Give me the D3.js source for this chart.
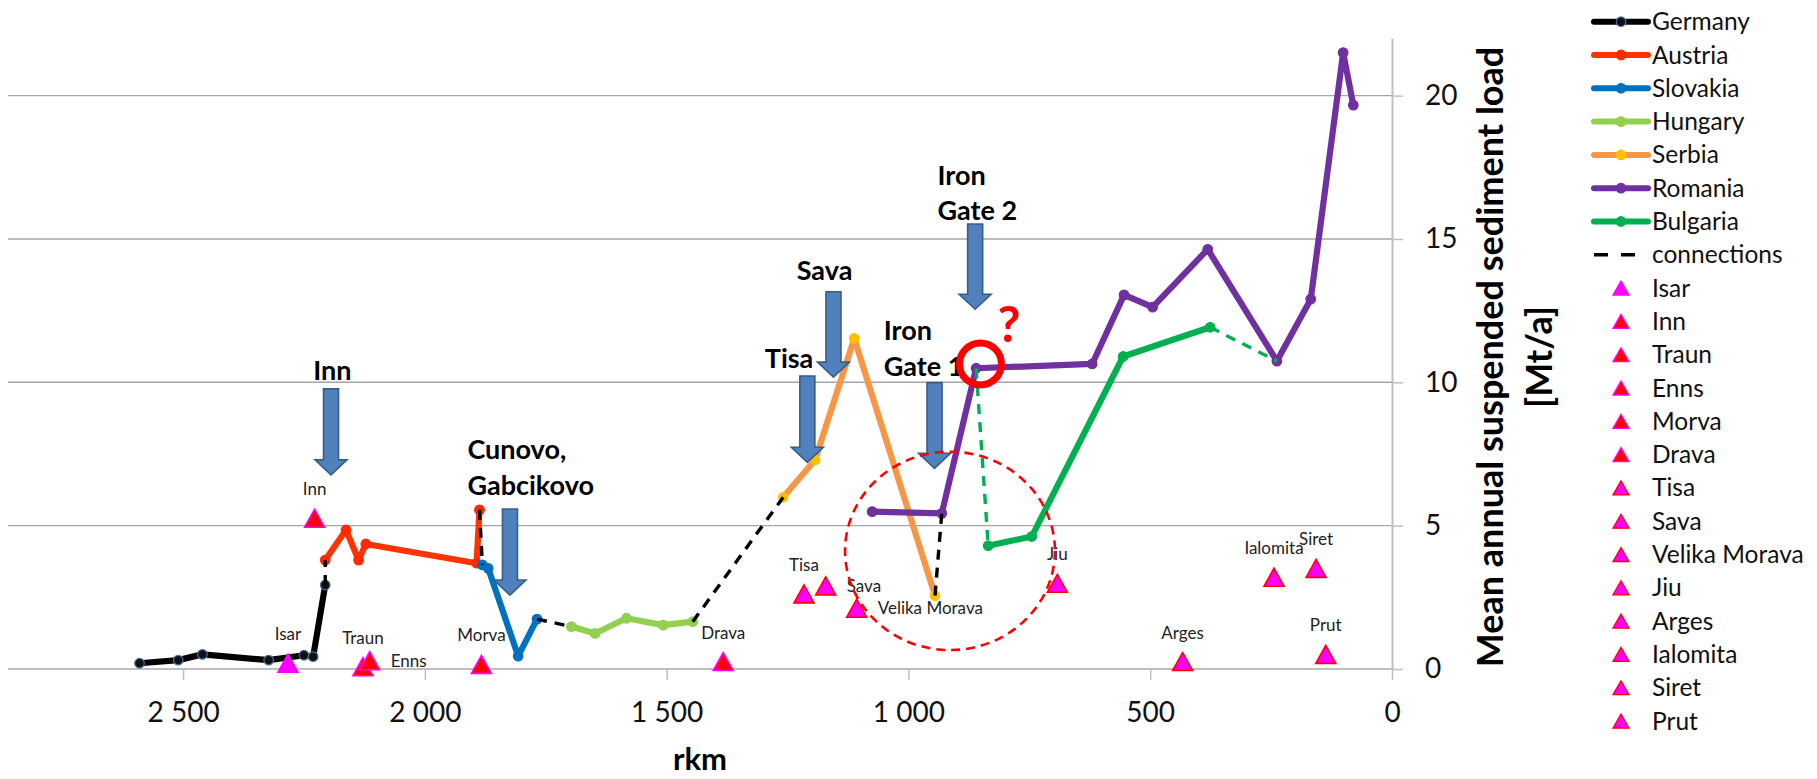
<!DOCTYPE html>
<html>
<head>
<meta charset="utf-8">
<script src="https://cdn.jsdelivr.net/npm/d3@7"></script>
<style>
  body { margin: 0; background: #fff; }
  svg { display: block; }
  text { font-family: Lato, "Open Sans", "Liberation Sans", sans-serif; }
</style>
</head>
<body>
<svg id="chart" width="1817" height="779"></svg>
<script>
// Danube: mean annual suspended sediment load along the river, by country (rkm, Mt/a)
const germanyRkm  = [2590, 2510, 2460, 2323, 2250, 2231, 2206];
const germanyLoad = [0.20, 0.31, 0.51, 0.31, 0.48, 0.43, 2.93];
const austriaRkm  = [2206, 2163, 2137, 2122, 1893, 1887];
const austriaLoad = [3.80, 4.85, 3.80, 4.36, 3.69, 5.55];
const slovakiaRkm  = [1881, 1869, 1807, 1768];
const slovakiaLoad = [3.63, 3.51, 0.45, 1.74];
const hungaryRkm  = [1697, 1648, 1583, 1507, 1446];
const hungaryLoad = [1.48, 1.24, 1.77, 1.53, 1.65];
const serbiaRkm  = [1259, 1193, 1112, 945];
const serbiaLoad = [5.99, 7.29, 11.53, 2.56];
const romaniaRkm  = [1075, 931, 860, 620, 554, 495, 381, 238, 168, 101, 80];
const romaniaLoad = [5.49, 5.43, 10.49, 10.64, 13.05, 12.62, 14.64, 10.74, 12.90, 21.50, 19.67];
const bulgariaRkm  = [835, 745, 556, 376];
const bulgariaLoad = [4.30, 4.62, 10.90, 11.92];

// links between consecutive national stretches
const connectionRkm  = [[2206, 2206], [1887, 1881], [1768, 1697], [1446, 1259], [945, 931]];
const connectionLoad = [[2.93, 3.80], [5.55, 3.63], [1.74, 1.48], [1.65, 5.99], [2.56, 5.43]];
// Romanian / Bulgarian bank links
const bankLinkRkm  = [[860, 835], [376, 238]];
const bankLinkLoad = [[10.49, 4.30], [11.92, 10.74]];

// tributary inputs
const tributaryNames = ["Isar", "Inn", "Traun", "Enns", "Morva", "Drava", "Tisa", "Sava",
                        "Velika Morava", "Jiu", "Arges", "Ialomita", "Siret", "Prut"];
const tributaryRkm  = [2283, 2228, 2128, 2114, 1883, 1383, 1216, 1171, 1107, 692, 433, 244, 157, 137];
const tributaryLoad = [0.20, 5.26, 0.08, 0.29, 0.16, 0.26, 2.62, 2.90, 2.12, 2.99, 0.26, 3.20, 3.51, 0.51];

// dams and confluences marked with arrows (arrow at rkm, from top load down to tip load)
const markerLabels   = [["Inn"], ["Cunovo,", "Gabcikovo"], ["Tisa"], ["Sava"], ["Iron", "Gate 1"], ["Iron", "Gate 2"]];
const markerLabelRkm = [2231, 1912, 1297, 1231, 1051, 940];
const markerLabelLoad = [[10.08], [7.33, 6.07], [10.50], [13.57], [11.49, 10.22], [16.90, 15.66]];
const markerArrowRkm = [2194, 1824, 1209, 1155, 946, 862];
const markerArrowTop = [9.77, 5.58, 10.22, 13.16, 9.99, 15.52];
const markerArrowTip = [6.77, 2.58, 7.21, 10.18, 7.00, 12.55];

const xTicks = [2500, 2000, 1500, 1000, 500, 0];
const yTicks = [0, 5, 10, 15, 20];
const legendSeries = ["Germany", "Austria", "Slovakia", "Hungary", "Serbia", "Romania", "Bulgaria"];

const svg = d3.select("#chart");
const x = d3.scaleLinear().domain([2862, 0]).range([8, 1392]);
const y = d3.scaleLinear().domain([0, 22]).range([669, 38.3]);
const fmt = d3.formatLocale({ decimal: ",", thousands: " ", grouping: [3], currency: ["", ""] }).format(",d");

const countryStyle = {
  Germany:  { line: "#000000", fill: "#111111", stroke: "#4a6fa5" },
  Austria:  { line: "#ff3300", fill: "#ff2a00", stroke: "#ff2a00" },
  Slovakia: { line: "#0070c0", fill: "#0070c0", stroke: "#0070c0" },
  Hungary:  { line: "#92d050", fill: "#92d050", stroke: "#92d050" },
  Serbia:   { line: "#f79646", fill: "#ffc000", stroke: "#ffc000" },
  Romania:  { line: "#7030a0", fill: "#7030a0", stroke: "#7030a0" },
  Bulgaria: { line: "#00b050", fill: "#00b050", stroke: "#00b050" }
};
const countries = [
  ["Germany", germanyRkm, germanyLoad], ["Austria", austriaRkm, austriaLoad],
  ["Slovakia", slovakiaRkm, slovakiaLoad], ["Hungary", hungaryRkm, hungaryLoad],
  ["Serbia", serbiaRkm, serbiaLoad], ["Romania", romaniaRkm, romaniaLoad],
  ["Bulgaria", bulgariaRkm, bulgariaLoad]
].map(([name, r, l]) => ({ name, pts: r.map((v, i) => ({ rkm: v, load: l[i] })) }));

// gridlines
svg.append("g").selectAll("line").data(yTicks.filter(t => t > 0)).join("line")
  .attr("x1", x.range()[0]).attr("x2", x.range()[1])
  .attr("y1", d => y(d)).attr("y2", d => y(d))
  .attr("stroke", "#a6a6a6").attr("stroke-width", 1.4);

// axes
const xAxis = svg.append("g").attr("transform", `translate(0,${y(0)})`)
  .call(d3.axisBottom(x).tickValues(xTicks).tickFormat(fmt).tickSize(11).tickSizeOuter(0).tickPadding(22));
const yAxis = svg.append("g").attr("transform", `translate(${x(0)},0)`)
  .call(d3.axisRight(y).tickValues(yTicks).tickFormat(d3.format("d")).tickSize(11).tickSizeOuter(0).tickPadding(22));
[xAxis, yAxis].forEach(a => {
  a.select(".domain").attr("stroke", "#bfbfbf").attr("stroke-width", 2);
  a.selectAll(".tick line").attr("stroke", "#bfbfbf").attr("stroke-width", 1.5);
  a.selectAll(".tick text").attr("font-size", 28).attr("fill", "#111")
    .style("font-family", "Lato, 'Open Sans', sans-serif");
});
xAxis.select(".domain").attr("d", `M${x.range()[0]},0H${x.range()[1]}`);

// axis titles
svg.append("text").attr("x", (x.range()[0] + x.range()[1]) / 2).attr("y", 770)
  .attr("text-anchor", "middle").attr("font-size", 31).attr("font-weight", 700).text("rkm");
const yTitleY = 357;
svg.append("text").attr("transform", `translate(1503,${yTitleY}) rotate(-90)`)
  .attr("text-anchor", "middle").attr("font-size", 36).attr("font-weight", 700)
  .text("Mean annual suspended sediment load");
svg.append("text").attr("transform", `translate(1552,${yTitleY}) rotate(-90)`)
  .attr("text-anchor", "middle").attr("font-size", 36).attr("font-weight", 700)
  .text("[Mt/a]");

// national stretches
const line = d3.line().x(d => x(d.rkm)).y(d => y(d.load));
const seriesG = svg.append("g");
countries.forEach(c => {
  const st = countryStyle[c.name];
  const g = seriesG.append("g");
  g.append("path").datum(c.pts).attr("d", line).attr("fill", "none")
    .attr("stroke", st.line).attr("stroke-width", 6.2)
    .attr("stroke-linejoin", "round").attr("stroke-linecap", "round");
  g.selectAll("circle").data(c.pts).join("circle")
    .attr("cx", d => x(d.rkm)).attr("cy", d => y(d.load)).attr("r", 4.8)
    .attr("fill", st.fill).attr("stroke", st.stroke).attr("stroke-width", 1.2);
});

// connections
const pairs = (rk, ld) => rk.map((r, i) => [{ rkm: r[0], load: ld[i][0] }, { rkm: r[1], load: ld[i][1] }]);
svg.append("g").selectAll("path").data(pairs(connectionRkm, connectionLoad)).join("path")
  .attr("d", line).attr("fill", "none").attr("stroke", "#000").attr("stroke-width", 3.4)
  .attr("stroke-dasharray", "10,8");
svg.append("g").selectAll("path").data(pairs(bankLinkRkm, bankLinkLoad)).join("path")
  .attr("d", line).attr("fill", "none").attr("stroke", "#00b050").attr("stroke-width", 3.4)
  .attr("stroke-dasharray", "10,8");

// tributaries
const redFilled = new Set(["Inn", "Traun", "Enns", "Morva", "Drava"]);
const rightLabelled = new Set(["Enns", "Sava", "Velika Morava"]);
const triFill = n => n === "Isar" ? "#ff00ff" : redFilled.has(n) ? "#ff0000" : "#ff00ff";
const triStroke = n => n === "Isar" ? "#ff00ff" : redFilled.has(n) ? "#ff00ff" : "#ff0000";
const tri = (w, h) => `M${-w / 2},${h / 2}L${w / 2},${h / 2}L0,${-h / 2}Z`;
const tribs = tributaryNames.map((n, i) => ({ name: n, rkm: tributaryRkm[i], load: tributaryLoad[i] }));
const tribG = svg.append("g");
tribG.selectAll("path").data(tribs).join("path")
  .attr("transform", d => `translate(${x(d.rkm)},${y(d.load)})`)
  .attr("d", tri(20, 18)).attr("fill", d => triFill(d.name)).attr("stroke", d => triStroke(d.name))
  .attr("stroke-width", 1.6).attr("stroke-linejoin", "miter");
tribG.selectAll("text").data(tribs).join("text")
  .attr("x", d => rightLabelled.has(d.name) ? x(d.rkm) + 21 : x(d.rkm))
  .attr("y", d => rightLabelled.has(d.name) ? y(d.load) + 6 : y(d.load) - 23)
  .attr("text-anchor", d => rightLabelled.has(d.name) ? "start" : "middle")
  .attr("font-size", 17).attr("fill", "#222").text(d => d.name);

// arrows
const arrowG = svg.append("g");
markerArrowRkm.forEach((r, i) => {
  const cx = x(r), top = y(markerArrowTop[i]), tip = y(markerArrowTip[i]);
  const headStart = tip - 15, sw = 7.5, hw = 16;
  const pts = [[cx - sw, top], [cx + sw, top], [cx + sw, headStart], [cx + hw, headStart],
               [cx, tip], [cx - hw, headStart], [cx - sw, headStart]];
  arrowG.append("polygon").attr("points", pts.map(p => p.join(",")).join(" "))
    .attr("fill", "#4f81bd").attr("stroke", "#385d8a").attr("stroke-width", 1.6);
});

// arrow captions
const capG = svg.append("g");
markerLabels.forEach((lines, i) => {
  lines.forEach((t, j) => {
    capG.append("text").attr("x", x(markerLabelRkm[i])).attr("y", y(markerLabelLoad[i][j]))
      .attr("font-size", 27).attr("font-weight", 700).attr("fill", "#000").text(t);
  });
});

// Iron Gate 2 highlight: ring and question mark
svg.append("circle").attr("cx", x(851)).attr("cy", y(10.64)).attr("r", 21)
  .attr("fill", "none").attr("stroke", "#ff0000").attr("stroke-width", 7);
svg.append("text").attr("x", x(792)).attr("y", y(11.4)).attr("text-anchor", "middle")
  .attr("font-size", 50).attr("font-weight", 700).attr("fill", "#ff0000").text("?");

// dashed ellipse around the Iron Gate reach
svg.append("ellipse").attr("cx", x(914)).attr("cy", y(4.12))
  .attr("rx", x(914) - x(1131)).attr("ry", y(0.66) - y(4.12))
  .attr("fill", "none").attr("stroke", "#ff0000").attr("stroke-width", 2.6)
  .attr("stroke-dasharray", "9,6");

// legend
const legend = svg.append("g").attr("transform", "translate(1594,0)");
const rowY = i => 21.7 + i * 33.3;
legendSeries.forEach((n, i) => {
  const st = countryStyle[n];
  const g = legend.append("g").attr("transform", `translate(0,${rowY(i)})`);
  g.append("line").attr("x1", 0).attr("x2", 54).attr("stroke", st.line).attr("stroke-width", 6)
    .attr("stroke-linecap", "round");
  g.append("circle").attr("cx", 27).attr("r", 4.8).attr("fill", st.fill).attr("stroke", st.stroke).attr("stroke-width", 1.2);
  g.append("text").attr("x", 58).attr("dy", "0.35em").attr("font-size", 24.5).attr("fill", "#111").text(n);
});
{
  const g = legend.append("g").attr("transform", `translate(0,${rowY(7)})`);
  g.append("line").attr("x1", 0).attr("x2", 42).attr("stroke", "#000").attr("stroke-width", 3.5)
    .attr("stroke-dasharray", "14,13");
  g.append("text").attr("x", 58).attr("dy", "0.35em").attr("font-size", 24.5).attr("fill", "#111").text("connections");
}
tributaryNames.forEach((n, i) => {
  const g = legend.append("g").attr("transform", `translate(0,${rowY(8 + i)})`);
  g.append("path").attr("transform", "translate(27,0)").attr("d", tri(16, 14))
    .attr("fill", triFill(n)).attr("stroke", triStroke(n)).attr("stroke-width", 1.3);
  g.append("text").attr("x", 58).attr("dy", "0.35em").attr("font-size", 24.5).attr("fill", "#111").text(n);
});
</script>
</body>
</html>
